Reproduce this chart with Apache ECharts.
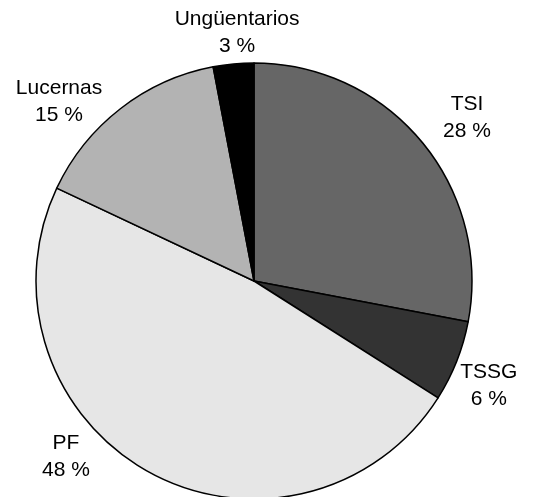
<!DOCTYPE html>
<html>
<head>
<meta charset="utf-8">
<script src="https://cdn.jsdelivr.net/npm/echarts@6/dist/echarts.min.js"></script>
<style>
  html, body { margin: 0; padding: 0; background: #fff; }
  #chart { width: 548px; height: 497px; }
</style>
</head>
<body>
<div id="chart"></div>
<script>
// Share of each category, clockwise from 12 o'clock
const categories = ['TSI', 'TSSG', 'PF', 'Lucernas', 'Ungüentarios'];
const shares = [28, 6, 48, 15, 3];
const sliceColors = ['#666666', '#333333', '#e6e6e6', '#b3b3b3', '#000000'];

// Where each label sits around the pie: bearing (degrees clockwise from 12 o'clock)
// and distance from the centre as a multiple of the radius
const labelBearing = [52.6, 114.1, 226.9, 312.55, 356.1];
const labelDistance = [1.23, 1.18, 1.181, 1.214, 1.14];

const CX = 254, CY = 281, R = 218;

const chart = echarts.init(document.getElementById('chart'), null, { renderer: 'canvas' });

chart.setOption({
  animation: false,
  backgroundColor: '#ffffff',
  series: [{
    type: 'pie',
    center: [CX, CY],
    radius: R,
    startAngle: 90,
    clockwise: true,
    avoidLabelOverlap: false,
    data: categories.map((name, i) => ({
      name,
      value: shares[i],
      itemStyle: { color: sliceColors[i] }
    })),
    itemStyle: { borderColor: '#000000', borderWidth: 1.5 },
    label: {
      show: true,
      position: 'outside',
      formatter: '{b}\n{c} %',
      fontFamily: 'Liberation Sans, Arial, sans-serif',
      fontSize: 21,
      lineHeight: 27,
      color: '#000000'
    },
    labelLine: { show: false },
    labelLayout: function (params) {
      const i = params.dataIndex;
      const a = labelBearing[i] * Math.PI / 180;
      const d = labelDistance[i] * R;
      return {
        x: CX + d * Math.sin(a),
        y: CY - d * Math.cos(a),
        align: 'center',
        verticalAlign: 'middle'
      };
    }
  }]
});
</script>
</body>
</html>
